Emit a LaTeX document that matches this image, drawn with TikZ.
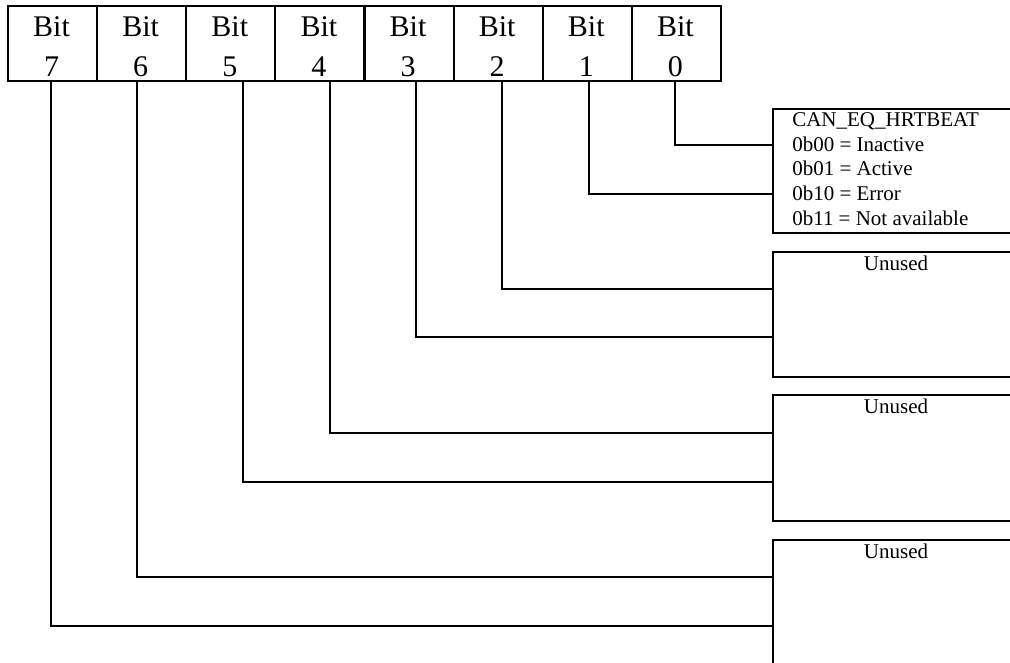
\documentclass[tikz,border=0pt]{standalone}
\usepackage{fontspec}
\setmainfont{Liberation Serif}
\begin{document}
\begin{tikzpicture}[x=0.75pt,y=-0.75pt,
  cell/.style={draw,line width=1.5pt,minimum width=66.84pt,minimum height=56.25pt,anchor=north west,inner sep=0pt},
  bitlbl/.style={anchor=base,font=\fontsize{22.5pt}{30pt}\selectfont,inner sep=0pt},
  infobox/.style={draw,line width=1.5pt,minimum width=186pt,anchor=north west,inner sep=0pt},
  small/.style={font=\fontsize{15.75pt}{18.4pt}\selectfont,inner sep=0pt},
  leader/.style={line width=1.1pt}]
\useasboundingbox (0,0) rectangle (1010,662);
\clip (0,0) rectangle (1010,662);
% register cells
\foreach \i/\b in {0/7,1/6,2/5,3/4,4/3,5/2,6/1,7/0}{
  \node[cell] (c\b) at ({7+89.125*\i},5) {};
  \node[bitlbl] (t\b) at ({51.5+89.125*\i},36) {Bit};
  \node[bitlbl] (n\b) at ({51.5+89.125*\i},76) {\b};
}
% right boxes
\node[infobox,minimum height=93pt] (b1) at (772,108) {};
\node[infobox,minimum height=93.75pt] (b2) at (772,251) {};
\node[infobox,minimum height=94.5pt] (b3) at (772,394) {};
\node[infobox,minimum height=120pt] (b4) at (772,539) {};
\node[small,anchor=base west,align=left] (txt1) at (792,225)
  {CAN\_EQ\_HRTBEAT\\0b00 = Inactive\\0b01 = Active\\0b10 = Error\\0b11 = Not available};
\node[small,anchor=base] (u2) at (896,270) {Unused};
\node[small,anchor=base] (u3) at (896,413) {Unused};
\node[small,anchor=base] (u4) at (896,558) {Unused};
% leader coordinates
\coordinate (l0) at (675,145);
\coordinate (l1) at (589,194);
\coordinate (l2) at (502,289);
\coordinate (l3) at (416,337);
\coordinate (l4) at (330,433);
\coordinate (l5) at (243,482);
\coordinate (l6) at (137,577);
\coordinate (l7) at (51,626);
\draw[leader] (c0.south -| l0) |- (l0 -| b1.west);
\draw[leader] (c1.south -| l1) |- (l1 -| b1.west);
\draw[leader] (c2.south -| l2) |- (l2 -| b2.west);
\draw[leader] (c3.south -| l3) |- (l3 -| b2.west);
\draw[leader] (c4.south -| l4) |- (l4 -| b3.west);
\draw[leader] (c5.south -| l5) |- (l5 -| b3.west);
\draw[leader] (c6.south -| l6) |- (l6 -| b4.west);
\draw[leader] (c7.south -| l7) |- (l7 -| b4.west);
\end{tikzpicture}
\end{document}
